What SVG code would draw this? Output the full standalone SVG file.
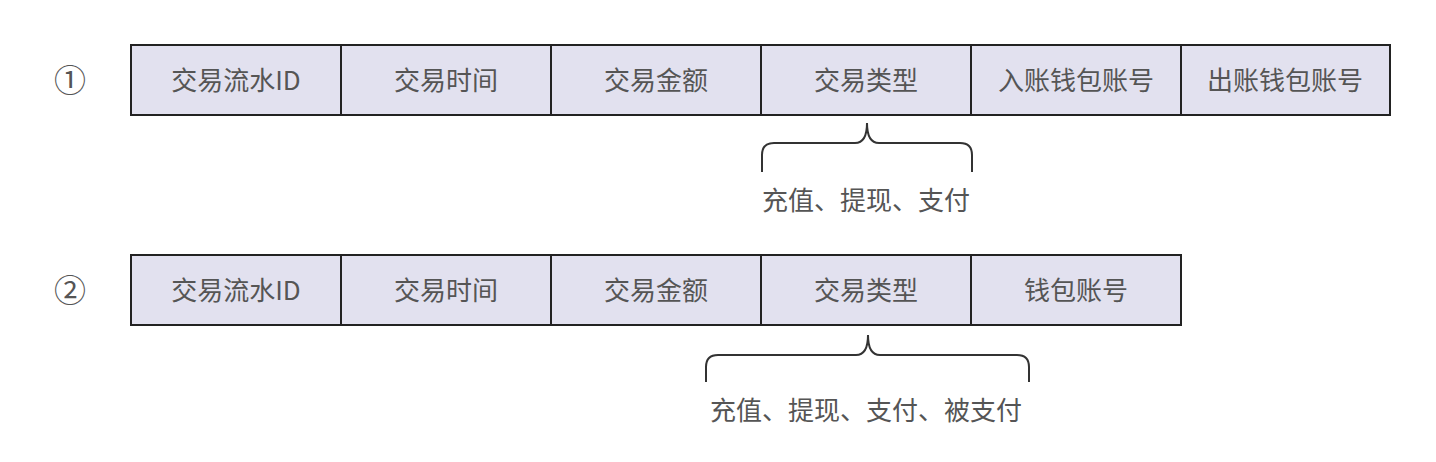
<svg xmlns="http://www.w3.org/2000/svg" width="1436" height="462" viewBox="0 0 1436 462">
<style>
.cell{fill:#e2e1ef;stroke:#222;stroke-width:2}
.t{font-family:"Noto Sans CJK SC","Liberation Sans",sans-serif;font-size:26px;fill:#555;text-anchor:middle}
.num{font-family:"Noto Sans CJK SC","DejaVu Sans",sans-serif;font-size:32px;fill:#555;text-anchor:middle}
.brace{fill:none;stroke:#333;stroke-width:2}
</style>
<rect width="1436" height="462" fill="#fff"/>
<g id="label1"><text class="num" x="70" y="92">①</text></g>
<g id="label2"><text class="num" x="70" y="302">②</text></g>
<g id="row1">
<g id="r1c1"><rect class="cell" x="131" y="45" width="210" height="70"/><text class="t" x="236" y="90">交易流水ID</text></g>
<g id="r1c2"><rect class="cell" x="341" y="45" width="210" height="70"/><text class="t" x="446" y="90">交易时间</text></g>
<g id="r1c3"><rect class="cell" x="551" y="45" width="210" height="70"/><text class="t" x="656" y="90">交易金额</text></g>
<g id="r1c4"><rect class="cell" x="761" y="45" width="210" height="70"/><text class="t" x="866" y="90">交易类型</text></g>
<g id="r1c5"><rect class="cell" x="971" y="45" width="210" height="70"/><text class="t" x="1076" y="90">入账钱包账号</text></g>
<g id="r1c6"><rect class="cell" x="1181" y="45" width="209" height="70"/><text class="t" x="1285" y="90">出账钱包账号</text></g>
</g>
<g id="row2">
<g id="r2c1"><rect class="cell" x="131" y="255" width="210" height="70"/><text class="t" x="236" y="300">交易流水ID</text></g>
<g id="r2c2"><rect class="cell" x="341" y="255" width="210" height="70"/><text class="t" x="446" y="300">交易时间</text></g>
<g id="r2c3"><rect class="cell" x="551" y="255" width="210" height="70"/><text class="t" x="656" y="300">交易金额</text></g>
<g id="r2c4"><rect class="cell" x="761" y="255" width="210" height="70"/><text class="t" x="866" y="300">交易类型</text></g>
<g id="r2c5"><rect class="cell" x="971" y="255" width="210" height="70"/><text class="t" x="1076" y="300">钱包账号</text></g>
</g>
<g id="connectors">
<path class="brace" d="M762,172 V155 Q762,143 774,143 H855 Q867,143 867,123 Q867,143 879,143 H960 Q972,143 972,155 V172"/>
<path class="brace" d="M706,382 V367 Q706,355 718,355 H856 Q868,355 868,335 Q868,355 880,355 H1017 Q1029,355 1029,367 V382"/>
</g>
<g id="note1"><text class="t" x="866" y="210">充值、提现、支付</text></g>
<g id="note2"><text class="t" x="866" y="420">充值、提现、支付、被支付</text></g>
</svg>
